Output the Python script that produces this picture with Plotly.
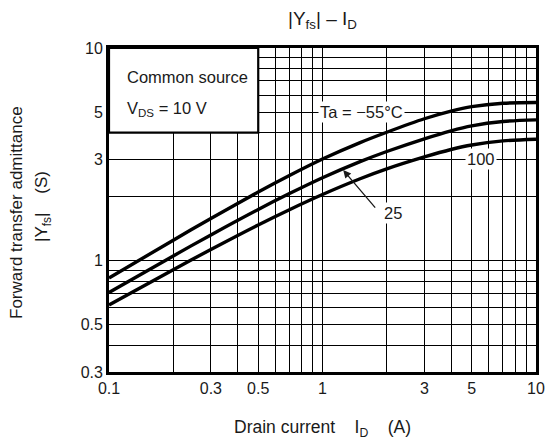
import math
import plotly.graph_objects as go

# ---- data ----
drain_current = [0.1, 0.2, 0.3, 0.5, 0.7, 1, 1.5, 2, 3, 4, 5, 7, 10]
yfs_m55 = [0.83, 1.249, 1.581, 2.104, 2.515, 3.006, 3.593, 4.019, 4.65, 5.05, 5.30, 5.50, 5.54]
yfs_25 = [0.71, 1.054, 1.323, 1.743, 2.069, 2.456, 2.924, 3.262, 3.744, 4.082, 4.307, 4.515, 4.595]
yfs_100 = [0.62, 0.908, 1.130, 1.474, 1.738, 2.048, 2.428, 2.702, 3.075, 3.334, 3.501, 3.658, 3.724]

x_tickvals = [0.1, 0.3, 0.5, 1, 3, 5, 10]
x_ticklabels = ["0.1", "0.3", "0.5", "1", "3", "5", "10"]
x_gridvals = [0.2, 0.4, 0.6, 0.7, 0.8, 0.9, 2, 4, 6, 7, 8, 9]
y_tickvals = [0.3, 0.5, 1, 3, 5, 10]
y_ticklabels = ["0.3", "0.5", "1", "3", "5", "10"]
y_gridvals = [0.4, 0.6, 0.7, 0.8, 0.9, 2, 4, 6, 7, 8, 9]

FONT = "Arial, Liberation Sans, Helvetica, sans-serif"
INK = "#1a1a1a"
L = math.log10

fig = go.Figure()
for ys in (yfs_m55, yfs_25, yfs_100):
    fig.add_trace(go.Scatter(x=drain_current, y=ys, mode="lines",
                             line=dict(color="black", width=3.4, shape="spline", smoothing=0.8),
                             showlegend=False, hoverinfo="skip"))

axis_common = dict(type="log", showgrid=True, gridcolor="black", gridwidth=1.2,
                   showline=True, linecolor="black", linewidth=2.8, mirror=True,
                   automargin=False,
                   ticks="", zeroline=False, tickfont=dict(size=16, color=INK, family=FONT))

fig.update_xaxes(range=[L(0.1), L(10)], tickvals=x_tickvals, ticktext=x_ticklabels,
                 minor=dict(tickvals=x_gridvals, showgrid=True, gridcolor="black", gridwidth=1.2, ticks=""),
                 **axis_common)
fig.update_yaxes(range=[L(0.3), L(10)], tickvals=y_tickvals, ticktext=y_ticklabels,
                 minor=dict(tickvals=y_gridvals, showgrid=True, gridcolor="black", gridwidth=1.2, ticks=""),
                 **axis_common)

# white box hiding the grid with the conditions
fig.add_shape(type="rect", xref="x", yref="y", x0=0.1, x1=0.5, y0=4, y1=10,
              fillcolor="white", line=dict(color="black", width=2.2), layer="above")

ann_font = dict(size=16.5, color=INK, family=FONT)
fig.add_annotation(x=L(0.1) + 0.075, y=0.864, xref="x", yref="y", text="Common source",
                   showarrow=False, xanchor="left", yanchor="middle", font=ann_font)
fig.add_annotation(x=L(0.1) + 0.075, y=0.715, xref="x", yref="y", text="V<sub>DS</sub> = 10 V",
                   showarrow=False, xanchor="left", yanchor="middle", font=ann_font)
fig.add_annotation(x=L(1.53), y=L(5), xref="x", yref="y", text="Ta = −55°C",
                   showarrow=False, bgcolor="white", borderpad=1, font=ann_font)
fig.add_annotation(x=L(5.52), y=L(3), xref="x", yref="y", text="100",
                   showarrow=False, bgcolor="white", borderpad=1, font=ann_font)
fig.add_annotation(x=L(2.14), y=L(1.68), xref="x", yref="y", text="25",
                   showarrow=False, bgcolor="white", borderpad=1, font=ann_font)
fig.add_annotation(x=L(1.25), y=L(2.67), xref="x", yref="y",
                   ax=L(1.79), ay=L(1.75), axref="x", ayref="y", text="",
                   showarrow=True, arrowhead=2, arrowsize=1.2, arrowwidth=1.3, arrowcolor=INK)

# titles
fig.add_annotation(x=0.5, y=1, xref="paper", yref="paper", yshift=28,
                   text="|Y<sub>fs</sub>| – I<sub>D</sub>",
                   showarrow=False, font=dict(size=19, color=INK, family=FONT),
                   xanchor="center", yanchor="middle")
fig.add_annotation(x=0.5, y=0, xref="paper", yref="paper", yshift=-56,
                   text="Drain current    I<sub>D</sub>    (A)",
                   showarrow=False, font=dict(size=17.5, color=INK, family=FONT),
                   xanchor="center", yanchor="middle")
fig.add_annotation(x=0, y=0.5, xref="paper", yref="paper", xshift=-93, yshift=-3,
                   text="Forward transfer admittance", textangle=-90,
                   showarrow=False, font=dict(size=17, color=INK, family=FONT),
                   xanchor="center", yanchor="middle")
fig.add_annotation(x=0, y=0.5, xref="paper", yref="paper", xshift=-66, yshift=3,
                   text="|Y<sub>fs</sub>|    (S)", textangle=-90,
                   showarrow=False, font=dict(size=17, color=INK, family=FONT),
                   xanchor="center", yanchor="middle")

fig.update_layout(
    width=547, height=441,
    margin=dict(l=109, r=11, t=48, b=69),
    paper_bgcolor="white", plot_bgcolor="white",
    showlegend=False,
    font=dict(family=FONT, color=INK),
)

fig.write_html("out.html",
               config=dict(displayModeBar=False, responsive=False),
               post_script="document.body.style.margin='0';document.body.style.overflow='hidden';")
